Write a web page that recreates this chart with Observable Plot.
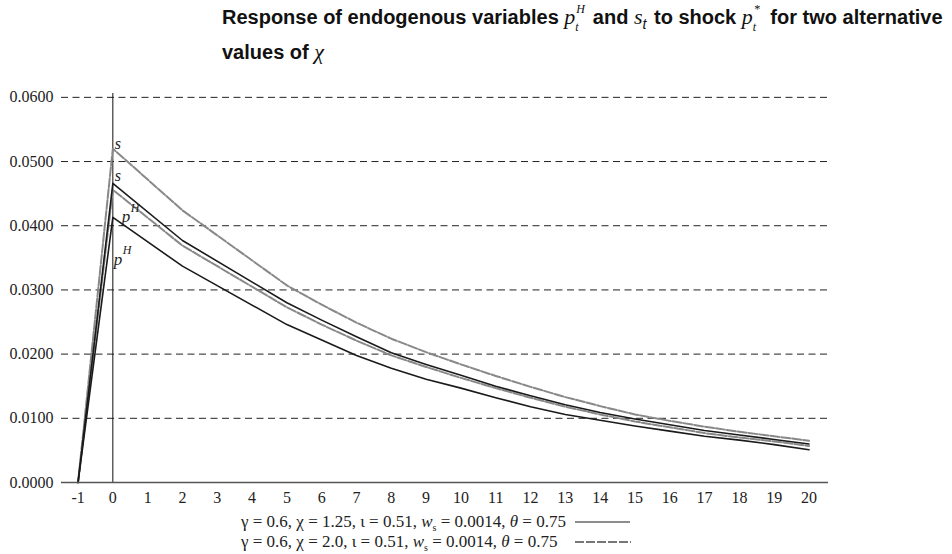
<!DOCTYPE html>
<html><head><meta charset="utf-8">
<script src="https://cdn.jsdelivr.net/npm/d3@7"></script>
<script src="https://cdn.jsdelivr.net/npm/@observablehq/plot@0.6"></script>
<style>
body{margin:0;background:#fff;width:952px;height:554px;overflow:hidden;position:relative}
#title{position:absolute;z-index:2;left:222px;top:3px;width:735px;font:bold 20px "Liberation Sans",Arial,sans-serif;line-height:27px;color:#111}
.m{font-family:"Liberation Serif",serif;font-style:italic;font-weight:normal;font-size:22px}
.ss{display:inline-block;position:relative;width:12px;height:20px;vertical-align:baseline;font-family:"Liberation Serif",serif;font-style:italic;font-weight:normal;font-size:12px;line-height:12px}
.ss .u{position:absolute;left:1px;top:-1px}
.ss .d{position:absolute;left:0;top:17px}
.sub{font-size:14px;font-family:"Liberation Sans",Arial,sans-serif;font-style:italic;font-weight:normal;vertical-align:-0.35em;margin-right:2px}
#chart{position:absolute;left:0;top:62px;z-index:1}
#legend{position:absolute;left:0;top:512px;width:952px;font:17px "Liberation Serif",serif;color:#222}
.row{position:relative;height:20px}
.row .lt{position:absolute;left:241px;top:0;white-space:nowrap;line-height:19px}
.row svg{position:absolute;left:575px;top:5px}
sub{font-size:10px}
</style>
</head><body>
<div id="title">Response of endogenous variables <span class="m">p</span><span class="ss"><span class="u">H</span><span class="d">t</span></span> and <span class="m">s</span><span class="sub">t</span> to shock <span class="m">p</span><span class="ss"><span class="u">*</span><span class="d">t</span></span> for two alternative values of <span class="m">χ</span></div>
<div id="chart"></div>
<div id="legend">
  <div class="row"><span class="lt">γ = 0.6, χ = 1.25, ι = 0.51, <i>w</i><sub>s</sub> = 0.0014, <i>θ</i> = 0.75</span><svg width="58" height="10"><line x1="0" x2="55" y1="5" y2="5" stroke="#666" stroke-width="1.3"/></svg></div>
  <div class="row"><span class="lt">γ = 0.6, χ = 2.0, ι = 0.51, <i>w</i><sub>s</sub> = 0.0014, <i>θ</i> = 0.75</span><svg width="58" height="10"><line x1="0" x2="56" y1="5" y2="5" stroke="#777" stroke-width="2" stroke-dasharray="9,2"/></svg></div>
</div>
<script>
// periods
const t = [-1, 0, 2, 5, 6, 7, 8, 9, 10, 11, 12, 13, 14, 15, 16, 17, 18, 19, 20];
// chi = 1.25
const pH_chi125 = [0, 0.0413, 0.0337, 0.0246, 0.0222, 0.0198, 0.0178, 0.0161, 0.0147, 0.0132, 0.0118, 0.0106, 0.0097, 0.0088, 0.0080, 0.0072, 0.0066, 0.0059, 0.0051];
const s_chi125  = [0, 0.0466, 0.0377, 0.0280, 0.0253, 0.0227, 0.0202, 0.0184, 0.0167, 0.0150, 0.0135, 0.0121, 0.0109, 0.0099, 0.0090, 0.0081, 0.0074, 0.0067, 0.0060];
// chi = 2.0
const pH_chi20  = [0, 0.0456, 0.0369, 0.0273, 0.0246, 0.0221, 0.0198, 0.0180, 0.0163, 0.0147, 0.0132, 0.0118, 0.0106, 0.0095, 0.0086, 0.0077, 0.0070, 0.0064, 0.0057];
const s_chi20   = [0, 0.0520, 0.0424, 0.0307, 0.0277, 0.0249, 0.0224, 0.0203, 0.0184, 0.0166, 0.0149, 0.0133, 0.0119, 0.0106, 0.0096, 0.0087, 0.0079, 0.0072, 0.0065];
const xTicks = [-1,0,1,2,3,4,5,6,7,8,9,10,11,12,13,14,15,16,17,18,19,20];
const yTicks = [0, 0.01, 0.02, 0.03, 0.04, 0.05, 0.06];

const rows = (arr, name) => t.map((tt, i) => ({t: tt, v: arr[i], series: name}));
const solid = [...rows(pH_chi125, "pH1"), ...rows(s_chi125, "s1")];
const dashed = [...rows(pH_chi20, "pH2"), ...rows(s_chi20, "s2")];

const lab = (arr) => [{t: 0, v: arr[1]}];
const italic = {fontFamily: "Liberation Serif, serif", fontStyle: "italic", fill: "#222", textAnchor: "start"};

const chart = Plot.plot({
  width: 952, height: 450,
  marginTop: 31, marginBottom: 30, marginLeft: 61, marginRight: 124,
  style: {fontFamily: "Liberation Serif, serif", fontSize: "16px", color: "#222", background: "transparent"},
  x: {type: "linear", domain: [-1.475, 20.56]},
  y: {domain: [0, 0.0606]},
  marks: [
    Plot.ruleY(yTicks.filter(d => d > 0), {stroke: "#222", strokeWidth: 1, strokeDasharray: "7,4.5"}),
    Plot.ruleX([0], {stroke: "#111", strokeWidth: 1}),
    Plot.line(dashed, {x: "t", y: "v", z: "series", stroke: "#888", strokeWidth: 2, strokeDasharray: "9,2"}),
    Plot.line(solid, {x: "t", y: "v", z: "series", stroke: "#1a1a1a", strokeWidth: 1.6}),
    Plot.ruleY([0], {stroke: "#555", strokeWidth: 1.5}),
    Plot.text(lab(s_chi20), {x: "t", y: "v", text: () => "s", ...italic, fontSize: 16, dx: 2, dy: -5}),
    Plot.text(lab(s_chi125), {x: "t", y: "v", text: () => "s", ...italic, fontSize: 16, dx: 2, dy: -7}),
    Plot.text(lab(pH_chi20), {x: "t", y: "v", text: () => "p", ...italic, fontSize: 17, dx: 9, dy: 27}),
    Plot.text(lab(pH_chi20), {x: "t", y: "v", text: () => "H", ...italic, fontSize: 12, dx: 18, dy: 18}),
    Plot.text(lab(pH_chi125), {x: "t", y: "v", text: () => "p", ...italic, fontSize: 17, dx: 1, dy: 42}),
    Plot.text(lab(pH_chi125), {x: "t", y: "v", text: () => "H", ...italic, fontSize: 12, dx: 10, dy: 33}),
    Plot.axisY({ticks: yTicks, tickFormat: d3.format(".4f"), tickSize: 0, tickPadding: 8, label: null, fontSize: 16}),
    Plot.axisX({ticks: xTicks, tickFormat: d => String(d), tickSize: 0, tickPadding: 9, label: null, fontSize: 16})
  ]
});
document.getElementById("chart").appendChild(chart);
</script>
</body></html>
